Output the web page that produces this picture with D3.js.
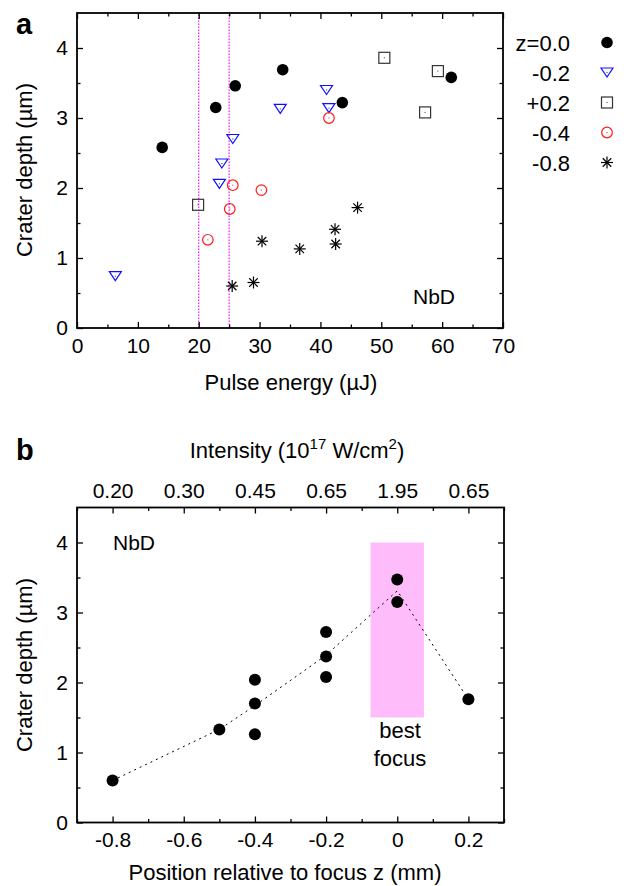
<!DOCTYPE html>
<html>
<head>
<meta charset="utf-8">
<script src="https://cdn.jsdelivr.net/npm/d3@7"></script>
<style>
  body { margin: 0; background: #fff; }
  svg { display: block; font-family: "Liberation Sans", Arial, sans-serif; }
  .tick text { font-size: 21px; fill: #000; }
</style>
</head>
<body>
<div id="chart"></div>
<script>
// panel a: crater depth vs pulse energy, one series per focus position
const seriesLabels = ["z=0.0", "-0.2", "+0.2", "-0.4", "-0.8"];
const seriesSymbols = ["disc", "tri", "square", "ring", "star"];

const energyZ00 = [14.0, 22.8, 26.0, 33.8, 43.6, 61.5];
const depthZ00  = [2.58, 3.15, 3.46, 3.69, 3.22, 3.58];
const energyM02 = [6.3, 23.8, 23.4, 25.6, 33.4, 41.0, 41.4];
const depthM02  = [0.74, 2.35, 2.06, 2.70, 3.13, 3.40, 3.14];
const energyP02 = [19.9, 50.5, 59.3, 57.2];
const depthP02  = [1.76, 3.86, 3.67, 3.08];
const energyM04 = [21.5, 25.1, 25.6, 30.3, 41.4];
const depthM04  = [1.26, 1.70, 2.04, 1.97, 3.00];
const energyM08 = [25.5, 29.0, 30.4, 36.6, 42.4, 42.5, 46.1];
const depthM08  = [0.60, 0.65, 1.24, 1.13, 1.41, 1.20, 1.72];
const markerLines = [20, 25];

// panel b: crater depth vs position relative to focus
const positions = [-0.8, -0.5, -0.4, -0.4, -0.4, -0.2, -0.2, -0.2, 0, 0, 0.2];
const depthsB   = [0.60, 1.33, 2.04, 1.70, 1.26, 2.72, 2.37, 2.08, 3.47, 3.15, 1.76];
const trendPos   = [-0.8, -0.5, -0.4, -0.2, 0, 0.2];
const trendDepth = [0.60, 1.33, 1.67, 2.39, 3.31, 1.76];
const bandX = [-0.075, 0.075];
const bandY = [1.5, 4.0];
const positionTicks = [-0.8, -0.6, -0.4, -0.2, 0, 0.2];
const intensityLabels = ["0.20", "0.30", "0.45", "0.65", "1.95", "0.65"];

const seriesA = [
  [energyZ00, depthZ00], [energyM02, depthM02], [energyP02, depthP02],
  [energyM04, depthM04], [energyM08, depthM08]
];

const svg = d3.select("#chart").append("svg")
    .attr("width", 644)
    .attr("height", 886);

function marker(g, type, x, y) {
  if (type === "disc") {
    g.append("circle").attr("cx", x).attr("cy", y).attr("r", 5.8).attr("fill", "#000");
    return;
  }
  if (type === "star") {
    const r = 6;
    [0, 45, 90, 135].forEach(a => {
      const dx = r * Math.cos(a * Math.PI / 180), dy = r * Math.sin(a * Math.PI / 180);
      g.append("line")
          .attr("x1", x - dx).attr("y1", y - dy).attr("x2", x + dx).attr("y2", y + dy)
          .attr("stroke", "#000").attr("stroke-width", 1.2);
    });
    return;
  }
  let col;
  if (type === "tri") {
    col = "#1010ff";
    g.append("path")
        .attr("d", `M${x - 6},${y - 4.5}L${x + 6},${y - 4.5}L${x},${y + 4.5}Z`)
        .attr("fill", "none").attr("stroke", col).attr("stroke-width", 1.2);
  } else if (type === "square") {
    col = "#333";
    g.append("rect").attr("x", x - 5.5).attr("y", y - 5.5).attr("width", 11).attr("height", 11)
        .attr("fill", "none").attr("stroke", col).attr("stroke-width", 1.2);
  } else {
    col = "#ff1a1a";
    g.append("circle").attr("cx", x).attr("cy", y).attr("r", 5.3)
        .attr("fill", "none").attr("stroke", col).attr("stroke-width", 1.2);
  }
  g.append("rect").attr("x", x - 0.5).attr("y", y - 0.5).attr("width", 1).attr("height", 1).attr("fill", col);
}

function frame(x, y, opts) {
  const g = svg.append("g");
  const [x0, x1] = x.range(), [y0, y1] = y.range();
  const fmt = d => "";
  // minor ticks
  g.append("g").attr("transform", `translate(0,${y0})`)
      .call(d3.axisBottom(x).tickValues(opts.xMinor).tickSize(-3.5).tickFormat(fmt));
  g.append("g").attr("transform", `translate(0,${y1})`)
      .call(d3.axisTop(x).tickValues(opts.xMinor).tickSize(-3.5).tickFormat(fmt));
  g.append("g").attr("transform", `translate(${x0},0)`)
      .call(d3.axisLeft(y).tickValues(opts.yMinor).tickSize(-3.5).tickFormat(fmt));
  g.append("g").attr("transform", `translate(${x1},0)`)
      .call(d3.axisRight(y).tickValues(opts.yMinor).tickSize(-3.5).tickFormat(fmt));
  // major ticks
  g.append("g").attr("transform", `translate(0,${y0})`)
      .call(d3.axisBottom(x).tickValues(opts.xMajor).tickSize(-6).tickPadding(10).tickFormat(opts.xFormat));
  g.append("g").attr("transform", `translate(0,${y1})`)
      .call(d3.axisTop(x).tickValues(opts.xMajor).tickSize(-6).tickPadding(10).tickFormat(opts.topFormat || fmt));
  g.append("g").attr("transform", `translate(${x0},0)`)
      .call(d3.axisLeft(y).tickValues([0, 1, 2, 3, 4]).tickSize(-6).tickPadding(9).tickFormat(d3.format("d")));
  g.append("g").attr("transform", `translate(${x1},0)`)
      .call(d3.axisRight(y).tickValues([0, 1, 2, 3, 4]).tickSize(-6).tickFormat(fmt));
  g.selectAll(".domain").remove();
  g.selectAll(".tick line").attr("stroke", "#000").attr("stroke-width", 1.3);
  g.selectAll(".tick text").attr("font-size", 21).attr("font-family", null);
  g.append("rect")
      .attr("x", x0).attr("y", y1).attr("width", x1 - x0).attr("height", y0 - y1)
      .attr("fill", "none").attr("stroke", "#000").attr("stroke-width", 1.8);
}

// ---------- panel a ----------
const xA = d3.scaleLinear().domain([0, 70]).range([77, 503]);
const yA = d3.scaleLinear().domain([0, 4.5]).range([328, 13]);

svg.selectAll(".vline").data(markerLines).enter().append("line")
    .attr("x1", d => xA(d)).attr("x2", d => xA(d))
    .attr("y1", yA(0)).attr("y2", yA(4.5))
    .attr("stroke", "#ff00ff").attr("stroke-width", 1.1).attr("stroke-dasharray", "1.5,1.5");

frame(xA, yA, {
  xMajor: d3.range(0, 71, 10),
  xMinor: d3.range(5, 70, 10),
  yMinor: [0.5, 1.5, 2.5, 3.5],
  xFormat: d3.format("d")
});

const ptsA = svg.append("g");
seriesA.forEach((s, i) => {
  s[0].forEach((e, j) => marker(ptsA, seriesSymbols[i], xA(e), yA(s[1][j])));
});

svg.append("text").attr("x", 413).attr("y", 304).attr("font-size", 21).text("NbD");

// legend
const legendY = [42.5, 72.5, 102.5, 132.5, 162.5];
seriesLabels.forEach((lab, i) => {
  svg.append("text")
      .attr("x", 570).attr("y", legendY[i] + 8)
      .attr("text-anchor", "end").attr("font-size", 22)
      .text(lab);
  marker(svg, seriesSymbols[i], 607, legendY[i]);
});

svg.append("text").attr("x", 291).attr("y", 390)
    .attr("text-anchor", "middle").attr("font-size", 22).text("Pulse energy (µJ)");
svg.append("text").attr("transform", "translate(32,170) rotate(-90)")
    .attr("text-anchor", "middle").attr("font-size", 22).text("Crater depth (µm)");
svg.append("text").attr("x", 16).attr("y", 34)
    .attr("font-size", 29).attr("font-weight", "bold").text("a");

// ---------- panel b ----------
const xB = d3.scaleLinear().domain([-0.9, 0.3]).range([77, 504]);
const yB = d3.scaleLinear().domain([0, 4.5]).range([822.5, 507.5]);

svg.append("rect")
    .attr("x", xB(bandX[0])).attr("y", yB(bandY[1]))
    .attr("width", xB(bandX[1]) - xB(bandX[0]))
    .attr("height", yB(bandY[0]) - yB(bandY[1]))
    .attr("fill", "#ffbcfa");

frame(xB, yB, {
  xMajor: positionTicks,
  xMinor: [-0.9, -0.7, -0.5, -0.3, -0.1, 0.1, 0.3],
  yMinor: [0.5, 1.5, 2.5, 3.5],
  xFormat: d => d === 0 ? "0" : d3.format(".1f")(d).replace("\u2212", "-"),
  topFormat: (d, i) => intensityLabels[i]
});

const line = d3.line().x((d, i) => xB(trendPos[i])).y(d => yB(d));
svg.append("path").datum(trendDepth)
    .attr("d", line)
    .attr("fill", "none").attr("stroke", "#000")
    .attr("stroke-width", 1).attr("stroke-dasharray", "2,4");

svg.append("g").selectAll("circle")
    .data(positions)
  .enter().append("circle")
    .attr("cx", d => xB(d))
    .attr("cy", (d, i) => yB(depthsB[i]))
    .attr("r", 6)
    .attr("fill", "#000");

svg.append("text").attr("x", 113).attr("y", 550).attr("font-size", 21).text("NbD");
svg.append("text").attr("x", 400).attr("y", 738)
    .attr("text-anchor", "middle").attr("font-size", 22).text("best");
svg.append("text").attr("x", 400).attr("y", 766)
    .attr("text-anchor", "middle").attr("font-size", 22).text("focus");

svg.append("text").attr("x", 285).attr("y", 880)
    .attr("text-anchor", "middle").attr("font-size", 22).text("Position relative to focus z (mm)");
svg.append("text").attr("transform", "translate(32,665) rotate(-90)")
    .attr("text-anchor", "middle").attr("font-size", 22).text("Crater depth (µm)");

const title = svg.append("text").attr("x", 297).attr("y", 458)
    .attr("text-anchor", "middle").attr("font-size", 22);
title.append("tspan").text("Intensity (10");
title.append("tspan").attr("dy", -9).attr("font-size", 15).text("17");
title.append("tspan").attr("dy", 9).text(" W/cm");
title.append("tspan").attr("dy", -9).attr("font-size", 15).text("2");
title.append("tspan").attr("dy", 9).text(")");

svg.append("text").attr("x", 16).attr("y", 460)
    .attr("font-size", 29).attr("font-weight", "bold").text("b");
</script>
</body>
</html>
